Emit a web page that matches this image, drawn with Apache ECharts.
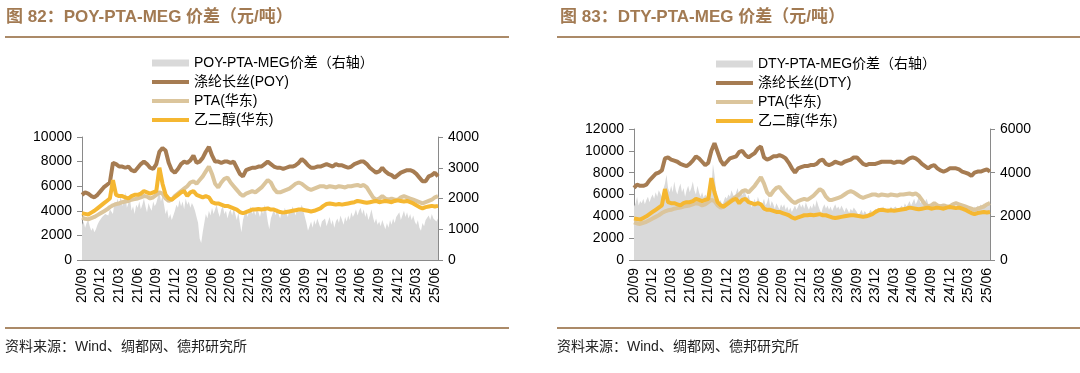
<!DOCTYPE html>
<html><head><meta charset="utf-8">
<script src="https://cdn.jsdelivr.net/npm/echarts@6/dist/echarts.min.js"></script>
<style>html,body{margin:0;padding:0;background:#fff}#c{width:1080px;height:373px}</style>
</head><body><div id="c"></div>
<script>
// ---------- DATA ----------
// x positions are months since 2020-09 (line series every half month, spread areas every quarter month)
const xTickLabels = ['20/09','20/12','21/03','21/06','21/09','21/12','22/03','22/06','22/09','22/12','23/03','23/06','23/09','23/12','24/03','24/06','24/09','24/12','25/03','25/06'];
const lineStep = 0.5;
const areaStep = 0.25;

const poy = [5300,5500,5400,5200,5100,5300,5600,5900,6100,6300,
 7900,7800,7600,7600,7500,7600,7300,7200,7500,7800,
 8000,7800,7500,7400,7800,8800,9100,8900,7900,7300,
 7100,7400,7800,8000,7900,8100,8500,7900,8000,8300,
 8800,9200,8500,8000,8000,7900,8000,8000,7900,8000,
 7500,7000,6800,7300,7400,7500,7500,7600,7600,7800,
 8000,7800,7600,7500,7500,7400,7500,7600,7600,7700,
 7900,8200,8000,7700,7500,7500,7600,7600,7700,7800,
 7700,7600,7800,7700,7700,7600,7500,7600,7800,7900,
 8000,8000,7800,7500,7300,7100,7200,7500,7200,7000,
 6900,6700,6900,7100,7200,7300,7300,7200,7000,6700,
 6400,6400,6800,6900,7100,6800];

const dty = [6600,6900,6800,6800,6900,7300,7600,7900,8000,8200,
 9300,9400,9200,9100,9000,8800,8700,8600,8800,9100,
 9500,9300,9000,8700,8900,10000,10700,9900,9100,8700,
 9000,9300,9400,9500,9900,10000,9600,9400,9600,9800,
 10200,10400,9400,9200,9300,9500,9500,9600,9500,9300,
 8900,8400,8000,8400,8500,8600,8600,8700,8700,8800,
 9100,9200,8800,8700,8800,9000,8900,8800,9000,9100,
 9200,9400,9400,9100,8800,8700,8800,8800,8800,8900,
 9000,9000,9000,9000,8900,9000,9000,8900,9100,9300,
 9400,9300,9100,8800,8600,8400,8600,8700,8400,8200,
 8100,8200,8400,8400,8400,8300,8100,8000,7900,7700,
 8000,8100,8100,8200,8300,8100];

const pta = [3450,3350,3300,3400,3500,3650,3800,3950,4100,4300,
 4450,4550,4600,4700,4750,4800,4900,4950,5000,5100,
 5200,5150,5000,5100,5300,5500,5400,5000,4800,4900,
 5200,5400,5600,5800,6000,6300,6400,6200,6500,6800,
 7200,7600,7000,6200,5900,6300,6600,6700,6300,6000,
 5700,5400,5200,5400,5500,5600,5500,5700,5900,6200,
 6500,6300,5800,5500,5500,5600,5700,5800,6000,6200,
 6300,6200,6000,5800,5700,5800,5900,6000,6000,5900,
 6000,5950,5900,6000,5950,5900,6000,6000,6050,6100,
 6000,6100,5900,5500,5100,4900,5000,5200,5000,4900,
 5000,4900,4900,5100,5200,5100,5000,4900,4800,4700,
 4600,4700,4800,4900,5100,5200];

const meg = [3800,3750,3700,3850,4000,4200,4400,4600,4800,5000,
 6500,5300,5200,5200,5100,5000,5200,5300,5300,5400,
 5600,5500,5400,5500,5600,7500,6200,5300,5000,4900,
 5100,5300,5500,5600,5200,5500,5600,5300,5200,5100,
 5200,5100,4700,4600,4600,4500,4400,4400,4300,4200,
 4100,3900,3800,3900,4000,4100,4100,4150,4100,4150,
 4200,4100,4100,4000,3900,3850,3900,3950,4000,4050,
 4100,4100,4050,4000,3950,4000,4100,4200,4400,4550,
 4600,4550,4500,4550,4500,4550,4600,4650,4700,4800,
 4750,4700,4650,4700,4750,4800,4700,4750,4800,4750,
 4700,4800,4850,4800,4750,4800,4700,4600,4450,4300,
 4200,4300,4350,4400,4350,4400];

const poySpread = [
 1150,1250,1050,1200,1300,1100,950,1050,900,1000,1150,1250,
 1300,1400,1350,1500,1550,1450,1650,1700,1500,1900,1750,2000,
 1800,2100,1750,1950,2200,1700,1850,2000,1600,1750,1500,1800,
 1700,1900,1650,1800,2000,1750,1550,1850,1700,1600,1900,1750,
 1850,2050,2250,1900,2100,1800,1500,1650,1350,1500,1300,1450,
 1600,1800,1700,1950,1750,1900,1650,2000,1800,1900,1700,1850,
 1750,1600,1400,1200,700,550,900,1200,1500,1350,1600,1450,
 1700,1500,1650,1800,1550,1400,1650,1750,1500,1600,1350,1550,
 1650,1450,1700,1500,1300,1550,1200,900,1300,1500,1650,1400,
 1600,1750,1500,1650,1450,1700,1550,1400,1650,1500,1800,1600,
 1250,1000,1350,1500,1650,1450,1700,1500,1350,1600,1450,1700,
 1550,1400,1650,1500,1750,1600,1450,1700,1550,1650,1800,1600,
 1400,1200,950,1100,1250,1050,1300,1150,1350,1200,1050,1250,
 1200,1350,1100,1250,1400,1150,1300,1050,1250,1350,1200,1450,
 1300,1150,1400,1250,1450,1300,1550,1400,1500,1650,1450,1600,
 1700,1500,1650,1400,1550,1300,1450,1650,1400,1200,1350,1150,
 1250,1100,1300,1150,1000,1200,1050,1300,1150,1350,1200,1400,
 1350,1550,1300,1450,1600,1400,1550,1350,1500,1300,1450,1250,
 1150,1300,1050,950,1200,1100,1300,1250,1450,1300,1500,1350,
 1400,1250,1350];

const dtySpread = [
 2450,2600,2900,2500,2700,2600,2800,2550,2750,2900,2650,2850,
 3000,2800,3100,2900,3200,3050,2900,3250,3500,3900,3300,3100,
 3400,3100,3600,3200,3000,3300,3500,3100,3300,2900,3200,3400,
 3100,3300,3600,3200,3000,3400,3100,2900,3100,2850,3000,2900,
 3100,2900,3300,4400,3900,3200,2800,2600,2750,2500,2700,2900,
 2800,3000,2900,3200,3000,2850,3100,3300,2900,3100,2950,3200,
 3050,2800,3000,2700,2400,2600,2800,2500,2900,2700,2400,2600,
 2800,2500,2650,2900,2450,2700,2550,2350,2600,2450,2300,2550,
 2400,2550,2300,2450,2250,2400,2200,2350,2500,2300,2450,2600,
 2400,2550,2350,2650,2450,2300,2500,2350,2600,2400,2750,2500,
 2300,2150,2400,2550,2350,2500,2300,2450,2250,2400,2550,2350,
 2450,2300,2500,2350,2200,2400,2300,2150,2350,2250,2400,2300,
 2200,2050,2150,2300,2100,2250,2150,2000,2200,2300,2150,2250,
 2350,2250,2400,2200,2350,2450,2300,2200,2400,2300,2450,2350,
 2300,2450,2350,2250,2400,2500,2350,2600,2450,2550,2700,2500,
 2650,2800,2550,2700,2900,2600,2750,2500,2650,2800,2600,2450,
 2550,2400,2600,2500,2350,2450,2300,2500,2400,2600,2450,2350,
 2500,2350,2450,2600,2400,2550,2300,2450,2350,2500,2400,2250,
 2300,2150,2350,2250,2450,2300,2500,2400,2550,2350,2600,2450,
 2500,2700,2550];

// ---------- STYLE ----------
const FONT = "'Liberation Sans', Arial, 'Noto Sans CJK SC', sans-serif";
const C_AREA = '#d9d9d9', C_FIB = '#a67c52', C_PTA = '#dbc59c', C_MEG = '#f5b731';
const C_TITLE = '#a27a52', C_RULE = '#ab8a68', AX = '#8a8a8a';

const toPairs = (arr, step) => arr.map((v, i) => [i * step, v]);

function xAxisCfg(g) {
  return { type: 'value', gridIndex: g, min: 0, max: 57.5, interval: 3,
    axisLine: { show: true, onZero: false, lineStyle: { color: AX } },
    axisTick: { show: true, inside: true, length: 4, lineStyle: { color: AX } },
    splitLine: { show: false },
    axisLabel: { rotate: 90, fontSize: 14, color: '#000', fontFamily: FONT, margin: 8,
      formatter: v => { const k = v / 3; return (Number.isInteger(k) && k < xTickLabels.length) ? xTickLabels[k] : ''; } } };
}
function yAxisCfg(g, pos, max, interval) {
  return { type: 'value', gridIndex: g, position: pos, min: 0, max: max, interval: interval,
    axisLine: { show: true, lineStyle: { color: AX } },
    axisTick: { show: true, length: 5, lineStyle: { color: AX } },
    splitLine: { show: false },
    axisLabel: { fontSize: 14, color: '#000', fontFamily: FONT, margin: 10, formatter: v => String(v) } };
}
function areaSeries(name, g, yi, data) {
  return { type: 'line', name, xAxisIndex: g, yAxisIndex: yi, data: toPairs(data, areaStep), symbol: 'none',
    lineStyle: { width: 0 }, itemStyle: { color: C_AREA }, areaStyle: { color: C_AREA, opacity: 1 } };
}
function lineSeries(name, g, yi, data, color) {
  return { type: 'line', name, xAxisIndex: g, yAxisIndex: yi, data: toPairs(data, lineStep), symbol: 'none',
    lineStyle: { width: 4, color }, itemStyle: { color } };
}
function legendCfg(name, color, h, left, cy) {
  return { show: true, left, top: cy - 8, padding: 0, itemWidth: 37, itemHeight: h, selectedMode: false,
    textStyle: { fontSize: 14, color: '#000', fontFamily: FONT },
    data: [{ name, icon: 'rect', itemStyle: { color, borderWidth: 0 } }] };
}

const option = {
  animation: false,
  backgroundColor: '#fff',
  grid: [
    { left: 82, right: 1080 - 438, top: 137, bottom: 373 - 260 },
    { left: 634, right: 1080 - 990, top: 129, bottom: 373 - 260 }
  ],
  xAxis: [xAxisCfg(0), xAxisCfg(1)],
  yAxis: [yAxisCfg(0, 'left', 10000, 2000), yAxisCfg(0, 'right', 4000, 1000),
          yAxisCfg(1, 'left', 12000, 2000), yAxisCfg(1, 'right', 6000, 2000)],
  legend: [
    legendCfg('POY-PTA-MEG价差（右轴）', C_AREA, 7, 152, 64),
    legendCfg('涤纶长丝(POY)', C_FIB, 4, 152, 83),
    legendCfg('PTA(华东)', C_PTA, 4, 152, 102),
    legendCfg('乙二醇(华东)', C_MEG, 4, 152, 121),
    legendCfg('DTY-PTA-MEG价差（右轴）', C_AREA, 7, 716, 65),
    legendCfg('涤纶长丝(DTY)', C_FIB, 4, 716, 84),
    legendCfg('PTA(华东)', C_PTA, 4, 716, 103),
    legendCfg('乙二醇(华东)', C_MEG, 4, 716, 122)
  ],
  series: [
    areaSeries('POY-PTA-MEG价差（右轴）', 0, 1, poySpread),
    lineSeries('涤纶长丝(POY)', 0, 0, poy, C_FIB),
    lineSeries('PTA(华东)', 0, 0, pta, C_PTA),
    lineSeries('乙二醇(华东)', 0, 0, meg, C_MEG),
    areaSeries('DTY-PTA-MEG价差（右轴）', 1, 3, dtySpread),
    lineSeries('涤纶长丝(DTY)', 1, 2, dty, C_FIB),
    lineSeries('PTA(华东)', 1, 2, pta, C_PTA),
    lineSeries('乙二醇(华东)', 1, 2, meg, C_MEG)
  ],
  graphic: [
    { type: 'text', left: 6, top: 9, style: { text: '图 82：POY-PTA-MEG 价差（元/吨）', font: 'bold 17px ' + FONT, fill: C_TITLE } },
    { type: 'text', left: 560, top: 9, style: { text: '图 83：DTY-PTA-MEG 价差（元/吨）', font: 'bold 17px ' + FONT, fill: C_TITLE } },
    { type: 'line', shape: { x1: 5, y1: 37, x2: 509, y2: 37 }, style: { stroke: C_RULE, lineWidth: 2 } },
    { type: 'line', shape: { x1: 557, y1: 37, x2: 1080, y2: 37 }, style: { stroke: C_RULE, lineWidth: 2 } },
    { type: 'line', shape: { x1: 5, y1: 328, x2: 509, y2: 328 }, style: { stroke: C_RULE, lineWidth: 2 } },
    { type: 'line', shape: { x1: 557, y1: 328, x2: 1080, y2: 328 }, style: { stroke: C_RULE, lineWidth: 2 } },
    { type: 'text', left: 5, top: 340, style: { text: '资料来源：Wind、绸都网、德邦研究所', font: '14px ' + FONT, fill: '#222' } },
    { type: 'text', left: 557, top: 340, style: { text: '资料来源：Wind、绸都网、德邦研究所', font: '14px ' + FONT, fill: '#222' } }
  ]
};
echarts.init(document.getElementById('c'), null, { renderer: 'canvas' }).setOption(option);
</script>
</body></html>
